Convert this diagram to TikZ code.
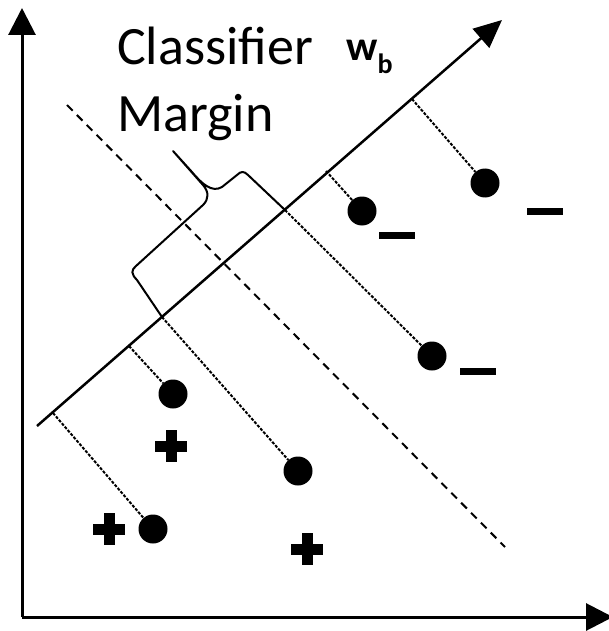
\documentclass[tikz,border=0pt]{standalone}
\usepackage{fontspec}
\setmainfont{Carlito}
\usetikzlibrary{arrows.meta, calc, positioning}

\tikzset{
  axisline/.style={line width=3pt, -{Triangle[length=27pt, width=27pt]}},
  classline/.style={line width=2.5pt, -{Triangle[length=28pt, width=25pt]}},
  marginline/.style={line width=2pt, dash pattern=on 8pt off 6pt},
  projline/.style={line width=2pt, dash pattern=on 3pt off 1.5pt},
  bracepath/.style={line width=2pt, line join=round},
  dot/.style={circle, fill=black, minimum size=29pt, inner sep=0pt},
  label/.style={anchor=base west, inner sep=0pt, font=\fontsize{54}{60}\selectfont},
  pics/plusmark/.style={code={
    \fill (-16,-5.5) rectangle (16,5.5);
    \fill (-5.5,-16) rectangle (5.5,16);}},
  pics/minusmark/.style={code={
    \fill (-18,-3.5) rectangle (18,3.5);}}
}

\begin{document}
\begin{tikzpicture}[x=1pt, y=-1pt]
  \useasboundingbox (0,0) rectangle (609,631);

  % axes
  \coordinate (origin) at (22,617);
  \coordinate (ytop) at (22,8);
  \coordinate (xright) at (613,617);
  \draw[axisline] (origin) -- (ytop);
  \draw[axisline] (origin) -- (xright);

  % classifier direction w_b
  \coordinate (wstart) at (37,426);
  \coordinate (wend) at (502,20);
  \draw[classline] (wstart) -- (wend);

  % margin (dashed)
  \coordinate (mtop) at (67,105);
  \coordinate (mbot) at (505,547);
  \draw[marginline] (mtop) -- (mbot);

  % feet of the projections
  \coordinate (f1) at (412,99);
  \coordinate (f2) at (326,171);
  \coordinate (f3) at (285,210);
  \coordinate (f4) at (129,346);
  \coordinate (f5) at (162,317);
  \coordinate (f6) at (53,413);

  % data points
  \node[dot] (p1) at (485,183) {};
  \node[dot] (p2) at (362,211) {};
  \node[dot] (p3) at (432,356) {};
  \node[dot] (p4) at (173,394) {};
  \node[dot] (p5) at (298,471) {};
  \node[dot] (p6) at (153,529) {};

  % projections onto w_b
  \foreach \i in {1,...,6}
    \draw[projline] (f\i) -- (p\i);

  % class marks
  \pic at (397,235) {minusmark};
  \pic at (545,211) {minusmark};
  \pic at (478,371) {minusmark};
  \pic at (171,446) {plusmark};
  \pic at (109,529) {plusmark};
  \pic at (307,549) {plusmark};

  % margin brace
  \draw[bracepath] (f5) -- (137,280) .. controls (131,274) and (131,270) .. (136,266)
    -- (203,205) .. controls (209,199) and (209,192) .. (203,185) -- (173,151)
    -- (192,172) .. controls (202,184) and (212,193) .. (222,187)
    -- (237,175) .. controls (241,171) and (244,171) .. (248,175) -- (f3);

  % labels
  \node[label] (classifier) at (117,65) {Classifier};
  \node[label] (margin) at (117,132) {Margin};
  \node[anchor=base west, inner sep=0pt, font=\fontsize{42}{48}\selectfont\bfseries]
    (wb) at (346,61) {w\raisebox{-0.3em}{\fontsize{28}{28}\selectfont b}};
\end{tikzpicture}
\end{document}
